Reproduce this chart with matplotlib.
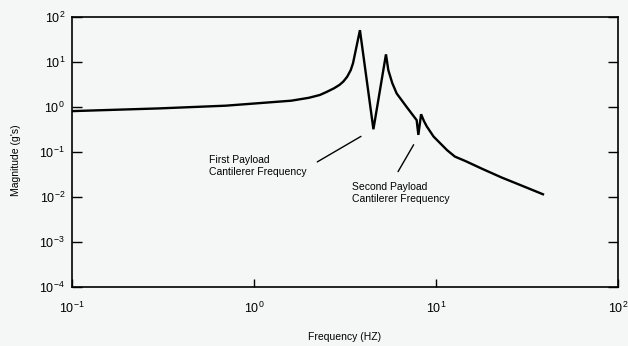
import numpy as np
import matplotlib.pyplot as plt

plt.rcParams['font.family'] = ['Liberation Sans', 'DejaVu Sans']
plt.rcParams['mathtext.fontset'] = 'custom'
plt.rcParams['mathtext.rm'] = 'Liberation Sans'
plt.rcParams['mathtext.it'] = 'Liberation Sans'

# frequency response
freq = [0.1, 0.3, 0.7, 1.6, 2.0, 2.3, 2.5, 2.75, 2.95, 3.1, 3.25, 3.4, 3.5,
        3.82, 4.53, 5.31, 5.47, 5.75, 6.08, 6.9, 7.83, 8.0, 8.28, 8.6, 8.9,
        9.7, 11.5, 12.7, 14.5, 18, 23, 29, 38.7]
mag = [0.81, 0.93, 1.07, 1.38, 1.6, 1.85, 2.15, 2.6, 3.1, 3.7, 4.7, 6.6, 9.4,
       51, 0.32, 14.8, 6.6, 3.4, 2.0, 1.0, 0.51, 0.24, 0.69, 0.48, 0.37,
       0.22, 0.11, 0.079, 0.063, 0.042, 0.027, 0.0185, 0.0115]

x_ticks = [0.1, 1, 10, 100]
x_labels = [r'$10^{-1}$', r'$10^{0}$', r'$10^{1}$', r'$10^{2}$']
y_ticks = [1e-4, 1e-3, 1e-2, 1e-1, 1, 10, 100]
y_labels = [r'$10^{-4}$', r'$10^{-3}$', r'$10^{-2}$', r'$10^{-1}$',
            r'$10^{0}$', r'$10^{1}$', r'$10^{2}$']

bg = '#f5f7f6'
fig = plt.figure(figsize=(6.28, 3.46), dpi=100, facecolor=bg)
ax = fig.add_axes([72/628, 1 - 287/346, 546/628, 270/346], facecolor=bg)

ax.loglog(freq, mag, color='black', lw=1.7, solid_joinstyle='miter')

ax.set_xlim(0.1, 100)
ax.set_ylim(1e-4, 1e2)
ax.set_xticks(x_ticks)
ax.set_xticklabels(x_labels)
ax.set_yticks(y_ticks)
ax.set_yticklabels(y_labels)
ax.minorticks_off()
ax.tick_params(axis='both', direction='in', length=7, width=1.0,
               labelsize=9, colors='black')
ax.tick_params(axis='y', right=True, pad=5)
ax.tick_params(axis='x', length=6, pad=10)
for s in ax.spines.values():
    s.set_linewidth(1.2)

ax.set_xlabel('Frequency (HZ)', fontsize=7.5)
ax.xaxis.set_label_coords(0.5, -0.165)
ax.set_ylabel("Magnitude (g's)", fontsize=7.5)
ax.yaxis.set_label_coords(-0.093, 0.47)

# callouts
ax.annotate('', xy=(3.99, 0.239), xytext=(2.16, 0.0561),
            arrowprops=dict(arrowstyle='-', color='black', lw=1.0))
ax.text(0.566, 0.0858, 'First Payload\nCantilerer Frequency',
        fontsize=7.5, ha='left', va='top', linespacing=1.3)

ax.annotate('', xy=(7.67, 0.164), xytext=(6.08, 0.0324),
            arrowprops=dict(arrowstyle='-', color='black', lw=1.0))
ax.text(3.44, 0.0219, 'Second Payload\nCantilerer Frequency',
        fontsize=7.5, ha='left', va='top', linespacing=1.3)

fig.savefig('out.png', dpi=100, facecolor=bg)
